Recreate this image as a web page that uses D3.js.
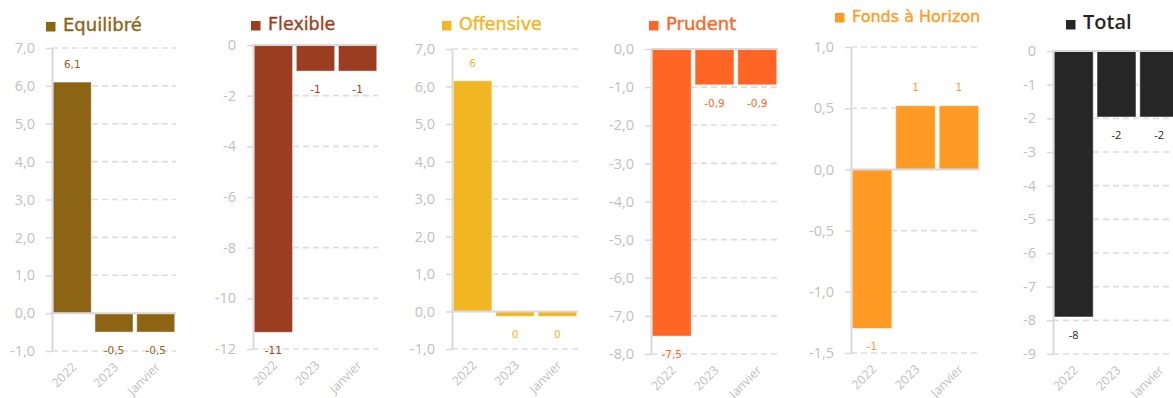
<!DOCTYPE html>
<html>
<head>
<meta charset="utf-8">
<script src="https://cdn.jsdelivr.net/npm/d3@7"></script>
<style>
  html, body { margin: 0; padding: 0; background: #ffffff; }
  svg { display: block; }
</style>
</head>
<body>
<svg id="chart" width="1173" height="398"></svg>
<script>
// Net flows per fund profile: 2022, 2023 and January
const categories = ["2022", "2023", "Janvier"];

const equilibreValues = [6.1, -0.5, -0.5];
const flexibleValues  = [-11.34, -1.03, -1.03];
const offensiveValues = [6.15, -0.13, -0.13];
const prudentValues   = [-7.53, -0.94, -0.94];
const horizonValues   = [-1.3, 0.52, 0.52];
const totalValues     = [-7.9, -1.96, -1.96];

const equilibreTicks = [-1, 0, 1, 2, 3, 4, 5, 6, 7];
const flexibleTicks  = [-12, -10, -8, -6, -4, -2, 0];
const offensiveTicks = [-1, 0, 1, 2, 3, 4, 5, 6, 7];
const prudentTicks   = [-8, -7, -6, -5, -4, -3, -2, -1, 0];
const horizonTicks   = [-1.5, -1, -0.5, 0, 0.5, 1];
const totalTicks     = [-9, -8, -7, -6, -5, -4, -3, -2, -1, 0];

// French number formatting (comma decimal, plain hyphen minus)
const fr = d3.formatLocale({ decimal: ",", thousands: " ", grouping: [3], currency: ["", " €"], minus: "-" });
function fmt(decimals) {
  const f = fr.format("." + decimals + "f");
  return v => {
    const s = f(v);
    return /^-0(,0*)?$/.test(s) ? s.slice(1) : s;
  };
}

// One entry per small chart: data + layout/style
const panels = [
  { name: "Equilibré", values: equilibreValues, ticks: equilibreTicks, tickDec: 1, labelDec: 1,
    color: "#8C6414", x0: 52, x1: 176, yTop: 48, yBottom: 351,
    titleX: 46, titleBase: 31, titleFont: "DejaVu Sans", titleSize: 18, labelFont: "DejaVu Sans", labelColor: "#8C6414" },
  { name: "Flexible", values: flexibleValues, ticks: flexibleTicks, tickDec: 0, labelDec: 0,
    color: "#9B3D20", x0: 253, x1: 378, yTop: 45, yBottom: 349,
    titleX: 251, titleBase: 30, titleFont: "DejaVu Sans", titleSize: 17.5, labelFont: "DejaVu Sans", labelColor: "#9B3D20" },
  { name: "Offensive", values: offensiveValues, ticks: offensiveTicks, tickDec: 1, labelDec: 0,
    color: "#F2B622", x0: 452, x1: 578, yTop: 49, yBottom: 349,
    titleX: 442, titleBase: 30, titleFont: "DejaVu Sans", titleSize: 17.5, labelFont: "DejaVu Sans", labelColor: "#F2B622" },
  { name: "Prudent", values: prudentValues, ticks: prudentTicks, tickDec: 1, labelDec: 1,
    color: "#FF6524", x0: 651, x1: 778, yTop: 49, yBottom: 354,
    titleX: 649, titleBase: 30, titleFont: "DejaVu Sans", titleSize: 18, labelFont: "DejaVu Sans", labelColor: "#FF6524" },
  { name: "Fonds à Horizon", values: horizonValues, ticks: horizonTicks, tickDec: 1, labelDec: 0,
    color: "#FF9B25", x0: 851, x1: 980, yTop: 47, yBottom: 353,
    titleX: 835, titleBase: 22, titleFont: "DejaVu Sans", titleSize: 16, labelFont: "DejaVu Sans", labelColor: "#FF9B25" },
  { name: "Total", values: totalValues, ticks: totalTicks, tickDec: 0, labelDec: 0,
    color: "#262626", x0: 1053, x1: 1180, yTop: 51, yBottom: 354,
    titleX: 1066, titleBase: 29, titleFont: "Open Sans", titleSize: 20, titleWeight: 600, labelFont: "Open Sans", labelColor: "#262626" }
];

const svg = d3.select("#chart");
const GRID = "#D9D9D9";
const AXIS_TEXT = "#BFBFBF";

panels.forEach(p => {
  const g = svg.append("g");
  const y = d3.scaleLinear()
    .domain([d3.min(p.ticks), d3.max(p.ticks)])
    .range([p.yBottom, p.yTop]);
  const x = d3.scaleBand()
    .domain(categories)
    .range([p.x0, p.x1])
    .paddingInner(0.09)
    .paddingOuter(0.03);

  // dashed gridlines (zero line is drawn solid)
  g.append("g").selectAll("line")
    .data(p.ticks.filter(t => t !== 0))
    .join("line")
    .attr("x1", p.x0).attr("x2", p.x1)
    .attr("y1", d => y(d)).attr("y2", d => y(d))
    .attr("stroke", "#DEDEDE")
    .attr("stroke-width", 1.6)
    .attr("stroke-dasharray", "6,4");

  // value axis
  const axis = d3.axisLeft(y)
    .tickValues(p.ticks)
    .tickFormat(fmt(p.tickDec))
    .tickSizeInner(6)
    .tickSizeOuter(0)
    .tickPadding(11);
  const ag = g.append("g").attr("transform", `translate(${p.x0},0)`).call(axis);
  ag.select(".domain").attr("stroke", GRID).attr("stroke-width", 2);
  ag.selectAll(".tick line").attr("stroke", GRID).attr("stroke-width", 1.5);
  ag.selectAll(".tick text")
    .attr("fill", AXIS_TEXT)
    .style("font-family", "'Open Sans', sans-serif")
    .style("font-size", "14.5px");

  // bars
  g.append("g").selectAll("rect")
    .data(p.values)
    .join("rect")
    .attr("x", (d, i) => x(categories[i]))
    .attr("width", x.bandwidth())
    .attr("y", d => y(Math.max(0, d)))
    .attr("height", d => Math.abs(y(d) - y(0)))
    .attr("fill", p.color)
    .attr("stroke", "rgba(255,255,255,0.45)")
    .attr("stroke-width", 1);

  // zero line
  g.append("line")
    .attr("x1", p.x0).attr("x2", p.x1)
    .attr("y1", y(0)).attr("y2", y(0))
    .attr("stroke", GRID)
    .attr("stroke-width", 2);

  // value labels just outside each bar end
  const lf = fmt(p.labelDec);
  g.append("g").selectAll("text")
    .data(p.values)
    .join("text")
    .attr("x", (d, i) => x(categories[i]) + x.bandwidth() / 2)
    .attr("y", d => d >= 0 ? y(d) - 18 : y(d) + 18)
    .attr("dy", "0.35em")
    .attr("text-anchor", "middle")
    .attr("fill", p.labelColor)
    .style("font-family", `'${p.labelFont}', sans-serif`)
    .style("font-size", p.labelFont === "Open Sans" ? "11px" : "10.5px")
    .text(d => lf(d));

  // rotated category labels
  g.append("g").selectAll("text")
    .data(categories)
    .join("text")
    .attr("transform", d => `translate(${x(d) + x.bandwidth() / 2 + 5},${p.yBottom + 17}) rotate(-45)`)
    .attr("text-anchor", "end")
    .attr("fill", AXIS_TEXT)
    .style("font-family", "'Open Sans', sans-serif")
    .style("font-size", "12.5px")
    .text(d => d);

  // legend-style title
  g.append("rect")
    .attr("x", p.titleX)
    .attr("y", p.titleBase - 9)
    .attr("width", 9.5)
    .attr("height", 9.5)
    .attr("fill", p.color);
  g.append("text")
    .attr("x", p.titleX + 17)
    .attr("y", p.titleBase)
    .attr("fill", p.color)
    .attr("stroke", p.titleWeight ? "none" : p.color)
    .attr("stroke-width", 0.35)
    .style("font-family", `'${p.titleFont}', sans-serif`)
    .style("font-size", p.titleSize + "px")
    .style("font-weight", p.titleWeight || 400)
    .text(p.name);
});
</script>
</body>
</html>
